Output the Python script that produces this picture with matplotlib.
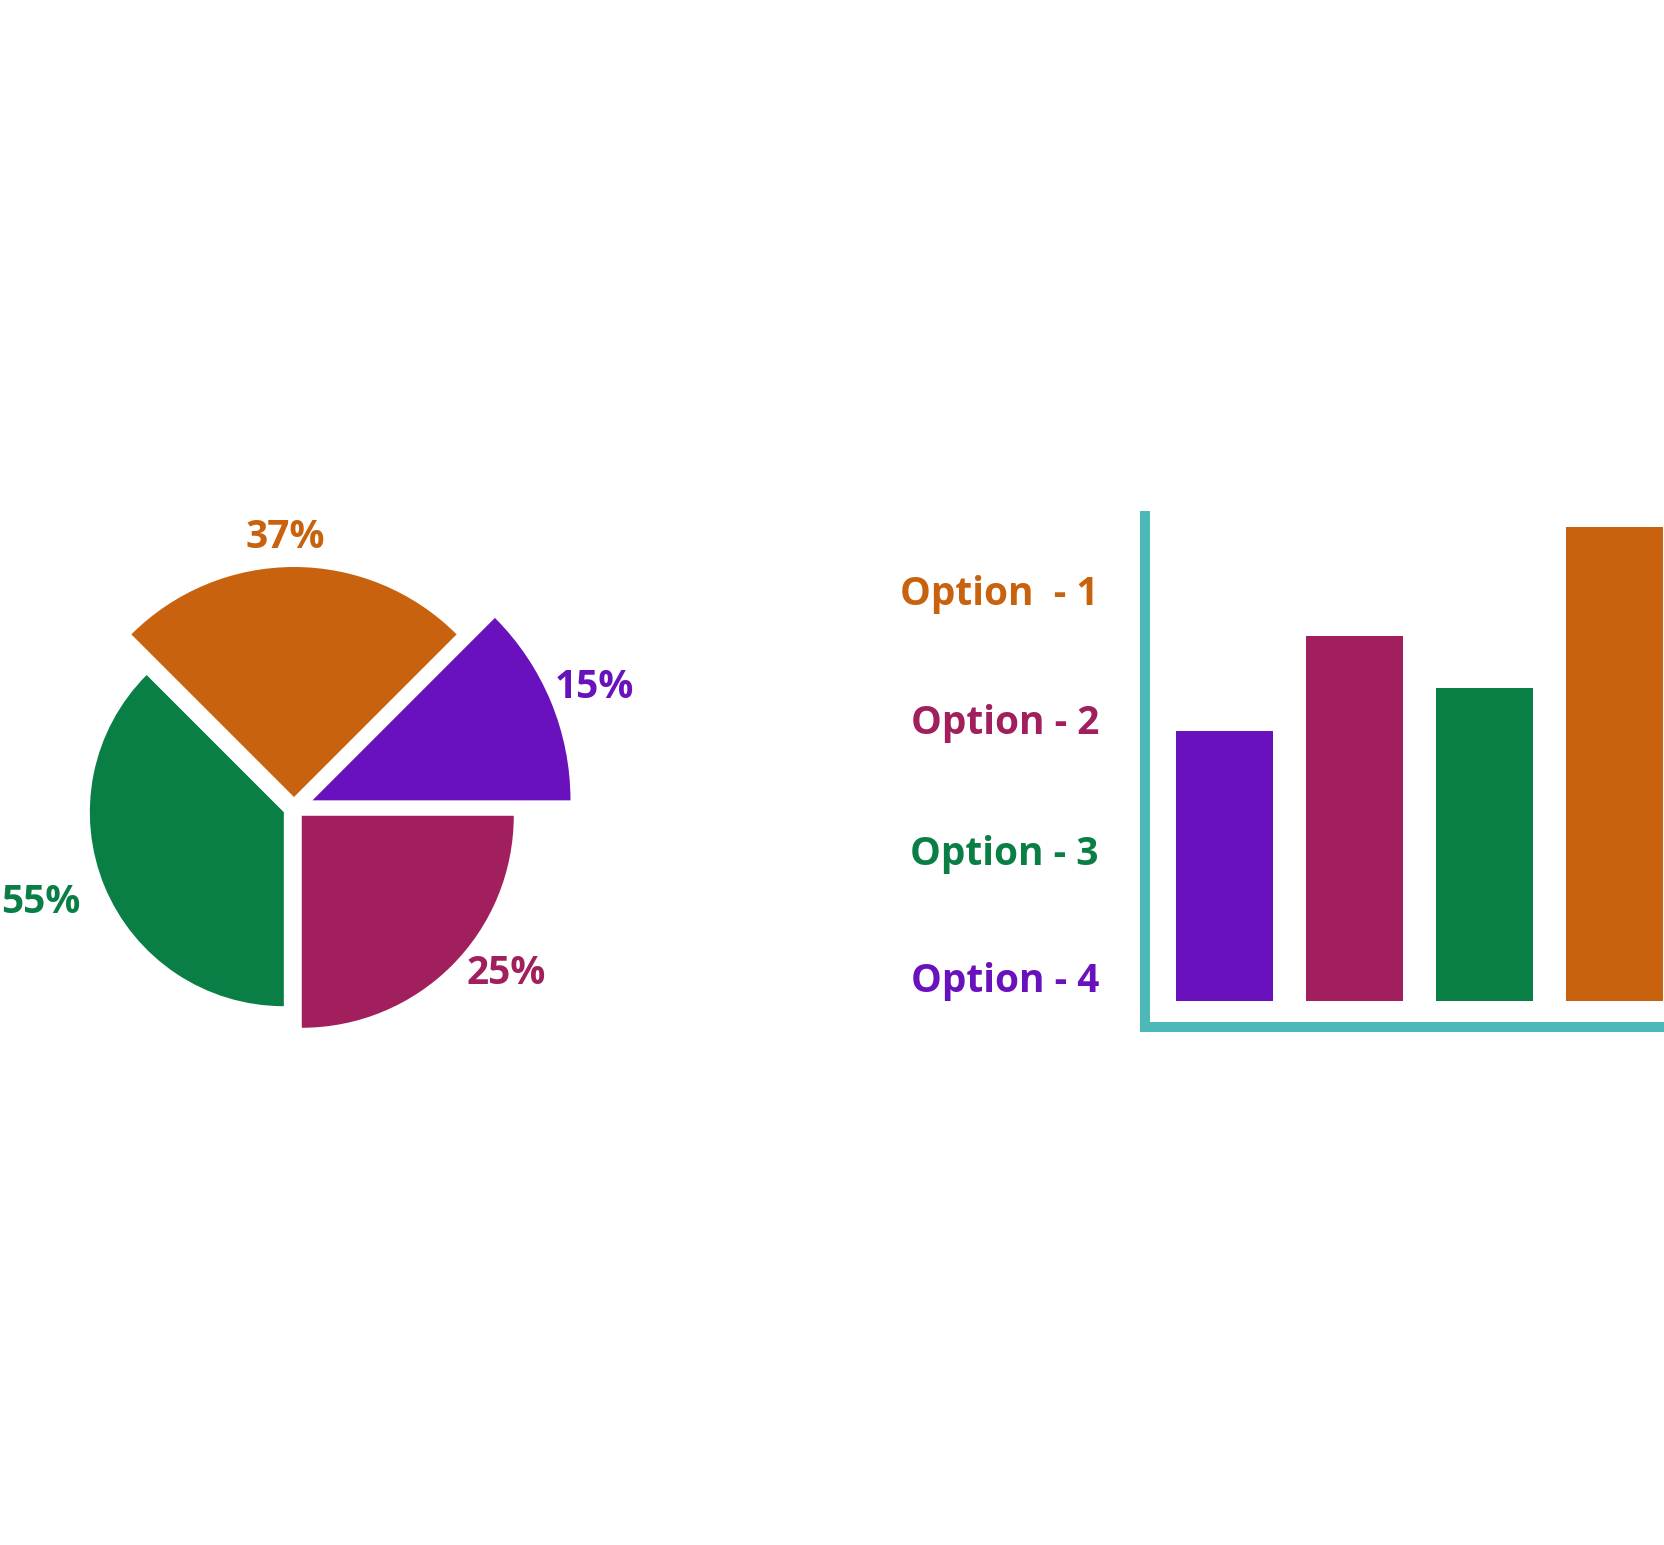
import matplotlib
matplotlib.use("Agg")
import matplotlib.pyplot as plt
from matplotlib.patches import Wedge
import numpy as np

# pie part: each slice has its own angle span and radius
pie_labels = ["37%", "15%", "25%", "55%"]
pie_theta1 = [45, 0, 270, 135]
pie_theta2 = [135, 45, 360, 270]
pie_radius = [230, 258, 212, 194]
pie_colors = ["#C8620E", "#6811BC", "#A01F5C", "#0A7F45"]
pie_explode = [11, 20, 11, 11]
pie_label_xy = [(-9, 260), (300, 110), (212, -176), (-253, -105)]

# bar part
bar_names = ["Option  - 1", "Option - 2", "Option - 3", "Option - 4"]
bar_values = [57, 77, 66, 100]
bar_colors = ["#6811BC", "#A01F5C", "#0A7F45", "#C8620E"]
name_colors = ["#C8620E", "#A01F5C", "#0A7F45", "#6811BC"]

plt.rcParams['font.family'] = ['Open Sans', 'DejaVu Sans']

W, H = 1664, 1545
fig = plt.figure(figsize=(W / 100, H / 100), dpi=100)

# pie axes: 1 data unit = 1 pixel
cx, cy = 294, 808
ax1 = fig.add_axes([(cx - 300) / W, (H - cy - 300) / H, 600 / W, 600 / H])
ax1.set_xlim(-300, 300)
ax1.set_ylim(-300, 300)
ax1.axis('off')
for t1, t2, r, c, ex in zip(pie_theta1, pie_theta2, pie_radius, pie_colors, pie_explode):
    mid = np.deg2rad((t1 + t2) / 2)
    ox, oy = ex * np.cos(mid), ex * np.sin(mid)
    ax1.add_patch(Wedge((ox, oy), r, t1, t2, facecolor=c, edgecolor='none'))
for lab, (x, y), c in zip(pie_labels, pie_label_xy, pie_colors):
    ax1.text(x, y, lab, color=c, fontsize=28, fontweight='bold',
             ha='center', va='baseline', clip_on=False)

# bar axes
left, right, top, bottom = 1145, 1664, 516, 1027
ax2 = fig.add_axes([left / W, (H - bottom) / H, (right - left) / W, (bottom - top) / H])
x = np.arange(len(bar_values))
ax2.bar(x, bar_values, width=0.75, color=bar_colors)
ax2.set_xlim(-0.61, 3.38)
ax2.set_ylim(-5.5, 102.3)
for s in ['top', 'right']:
    ax2.spines[s].set_visible(False)
for s in ['left', 'bottom']:
    ax2.spines[s].set_color('#4DB8B8')
    ax2.spines[s].set_linewidth(7.2)
    ax2.spines[s].set_capstyle('projecting')
ax2.set_xticks([])
ax2.set_yticks([])

name_y = [605, 734, 865, 992]
for name, y, c in zip(bar_names, name_y, name_colors):
    fig.text(1099 / W, 1 - y / H, name, color=c, fontsize=28, fontweight='bold',
             ha='right', va='baseline')

fig.savefig("out.png", dpi=100, facecolor='white')
